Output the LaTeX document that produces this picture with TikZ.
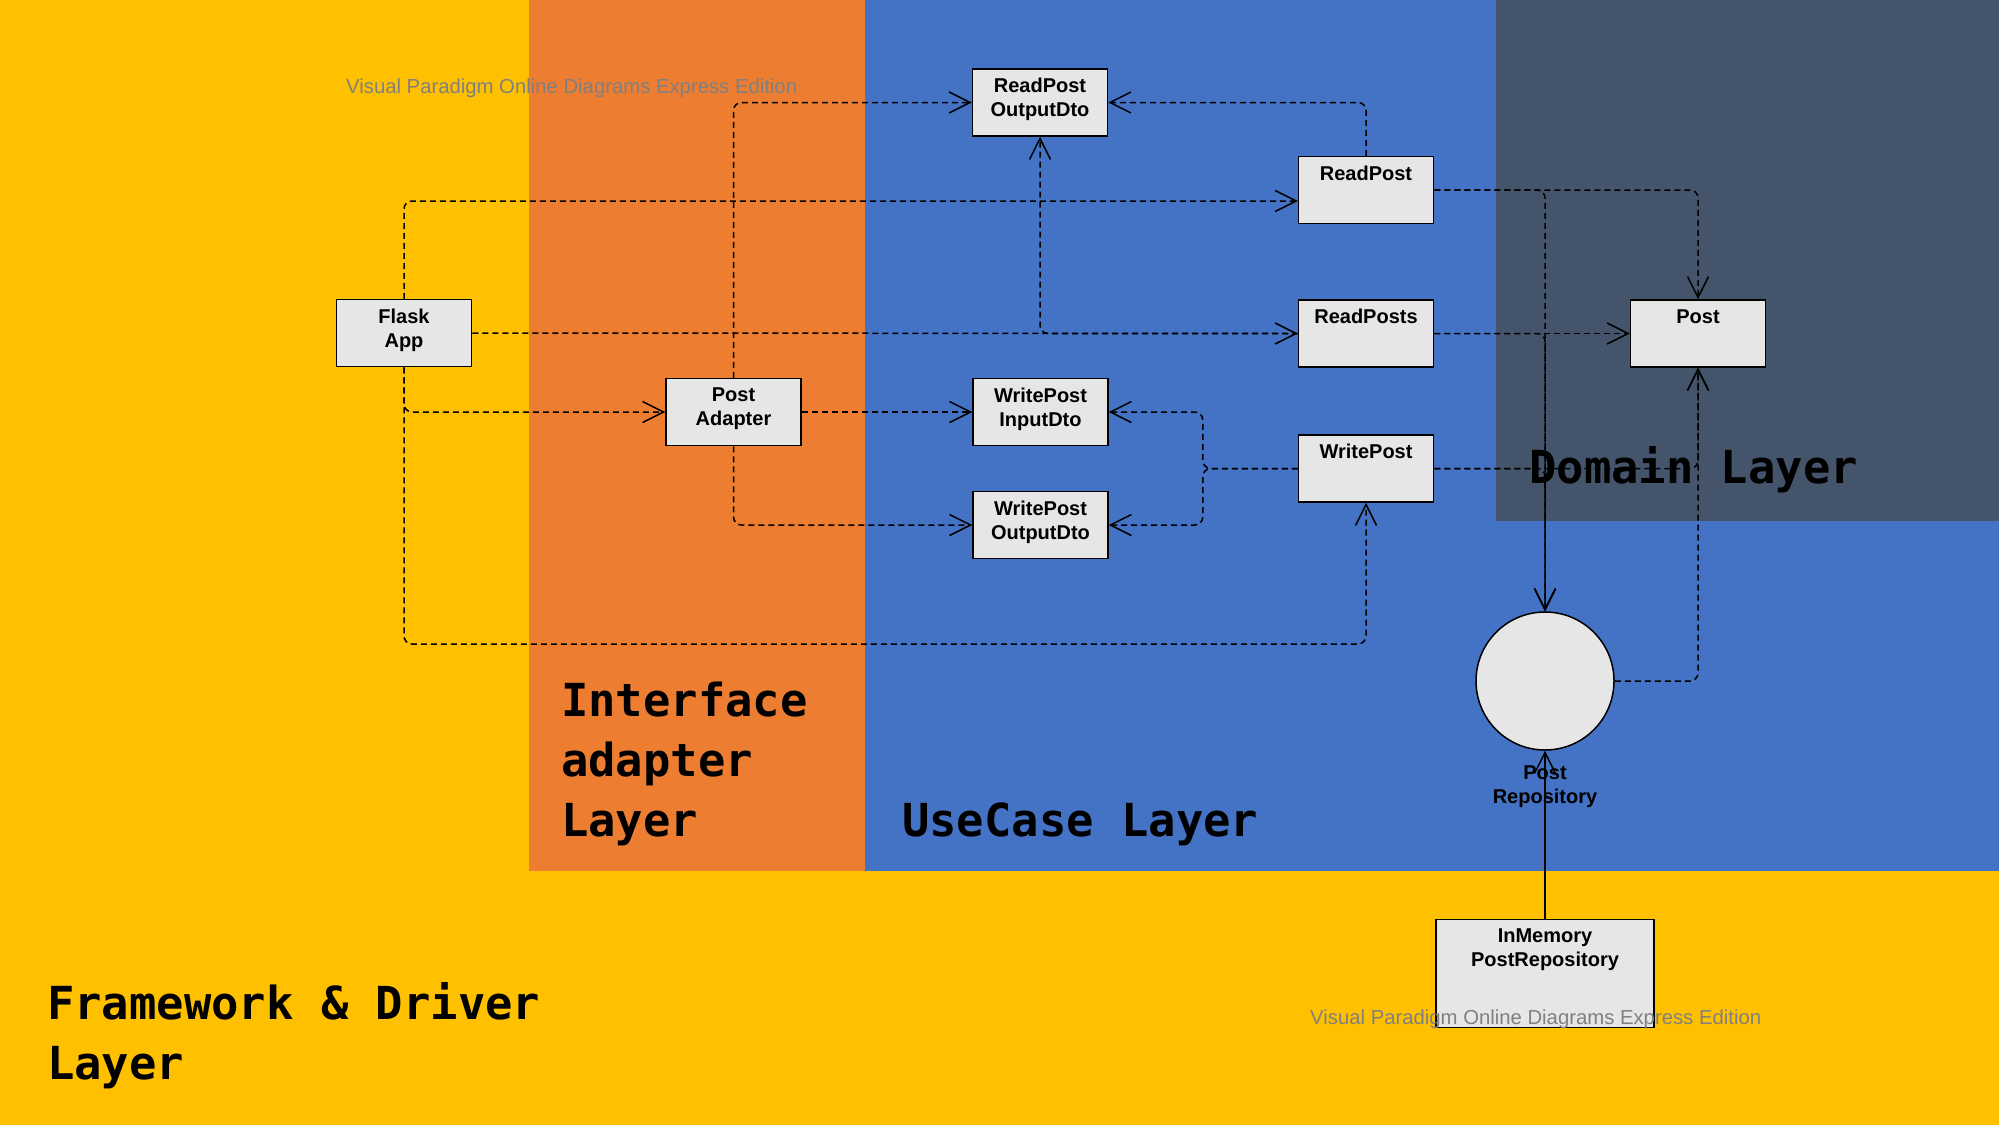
\documentclass[tikz,border=0pt]{standalone}
\usepackage{fontspec}
\setmainfont{Liberation Sans}
\newfontfamily\layerfont{DejaVu Sans Mono}
\usetikzlibrary{arrows.meta,calc}
\definecolor{fwyellow}{HTML}{FFC000}
\definecolor{iaorange}{HTML}{ED7D31}
\definecolor{ucblue}{HTML}{4472C4}
\definecolor{domslate}{HTML}{44546A}
\definecolor{boxgray}{HTML}{E6E6E6}
\definecolor{markgray}{HTML}{808080}
\begin{document}
\begin{tikzpicture}[x=1pt,y=-1pt,
    intext/.style={anchor=north,inner sep=0pt,align=center,font=\fontsize{20}{24}\selectfont\bfseries},
    cls/.style={draw,line width=1.5pt,fill=boxgray,minimum width=135pt,minimum height=67pt,inner sep=0pt,
        label={[intext,yshift=-10pt]north:#1}},
    layertxt/.style={inner sep=0pt,align=left,font=\layerfont\fontsize{45.5}{60}\selectfont\bfseries},
    wmark/.style={anchor=base west,inner sep=0pt,text=markgray,font=\fontsize{20.3}{24}\selectfont},
    dep/.style={line width=1.5pt,dash pattern=on 6pt off 4pt,rounded corners=8pt,-{Straight Barb[length=21pt,width=21pt]}},
    assoc/.style={line width=1.5pt,-{Straight Barb[length=21pt,width=21pt]}}]
    \useasboundingbox (0,0) rectangle (1999,1125);
    \fill[fwyellow] (0,0) rectangle (1999,1125);
    \fill[iaorange] (529,0) rectangle (865,871);
    \fill[ucblue] (865,0) rectangle (1999,871);
    \fill[domslate] (1496,0) rectangle (1999,521);

    \node[layertxt,anchor=north west] (ialayer) at (561,682) {Interface\\adapter\\Layer};
    \node[layertxt,anchor=base west] (uclayer) at (902,836) {UseCase Layer};
    \node[layertxt,anchor=base west] (domlayer) at (1529,483) {Domain Layer};
    \node[layertxt,anchor=north west] (fwlayer) at (47,982) {Framework \& Driver\\Layer};

    \node[cls={Flask\\App}] (flask) at (404,333) {};
    \node[cls={Post\\Adapter}] (adapter) at (733.5,412) {};
    \node[cls={ReadPost\\OutputDto}] (rpout) at (1040,102.5) {};
    \node[cls={WritePost\\InputDto}] (wpin) at (1040.5,412) {};
    \node[cls={WritePost\\OutputDto}] (wpout) at (1040.5,525) {};
    \node[cls=ReadPost] (readpost) at (1366,190) {};
    \node[cls=ReadPosts] (readposts) at (1366,333.5) {};
    \node[cls=WritePost] (writepost) at (1366,468.5) {};
    \node[cls=Post] (post) at (1698,333.5) {};
    \node[draw,line width=1.5pt,fill=boxgray,circle,minimum size=138pt,inner sep=0pt,
        label={[intext,yshift=-15pt]south:Post\\Repository}] (repo) at (1545,681) {};
    \node[cls={InMemory\\PostRepository},minimum width=218pt,minimum height=108pt] (inmem) at (1545,973.5) {};

    \draw[dep] (flask.north) |- ($(readpost.west)+(0,11)$);
    \draw[dep] (flask.east) -- (readposts.west);
    \draw[dep] (flask.south) |- (adapter.west);
    \draw[dep] (flask.south) |- (writepost.south |- 0,644) -- (writepost.south);
    \draw[dep] (adapter.north) |- (rpout.west);
    \draw[dep] (adapter.east) -- (wpin.west);
    \draw[dep] (adapter.south) |- (wpout.west);
    \draw[dep] (readpost.north) |- (rpout.east);
    \draw[dep] (readposts.west) -| (rpout.south);
    \draw[dep] (writepost.west) -- ++(-95,0) |- (wpin.east);
    \draw[dep] (writepost.west) -- ++(-95,0) |- (wpout.east);
    \draw[dep] (readpost.east) -| (post.north);
    \draw[dep] (readposts.east) -- (post.west);
    \draw[dep] (writepost.east) -| (post.south);
    \draw[dep] (repo.east) -| (post.south);
    \draw[dep] (readpost.east) -| (repo.north);
    \draw[dep] (readposts.east) -| (repo.north);
    \draw[dep] (writepost.east) -| (repo.north);
    \draw[assoc] (inmem.north) -- (repo.south);

    \node[wmark] (wm1) at (346,93) {Visual Paradigm Online Diagrams Express Edition};
    \node[wmark] (wm2) at (1310,1024) {Visual Paradigm Online Diagrams Express Edition};
\end{tikzpicture}
\end{document}
